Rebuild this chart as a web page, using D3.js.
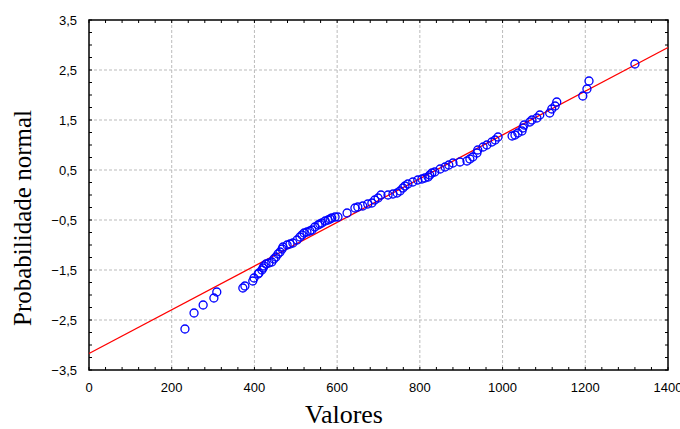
<!DOCTYPE html>
<html>
<head>
<meta charset="utf-8">
<script src="https://cdn.jsdelivr.net/npm/d3@7"></script>
<style>
  body { margin: 0; background: #fff; }
  svg { display: block; }
</style>
</head>
<body>
<svg id="chart" width="680" height="429"></svg>
<script>
// values
var valores = [232, 254, 276, 302, 309, 372, 377, 396, 399, 409, 411, 418, 421, 423, 428, 435, 442, 447, 452, 457,
  462, 467, 469, 479, 486, 493, 503, 510, 515, 520, 527, 534, 539, 546, 554, 558, 563, 571, 578, 583,
  587, 595, 602, 624, 643, 650, 662, 674, 684, 691, 699, 706, 723, 735, 745, 752, 759, 764, 771, 783,
  795, 805, 812, 820, 824, 829, 836, 849, 861, 870, 880, 897, 914, 921, 928, 938, 940, 953, 962, 974,
  982, 989, 1023, 1030, 1037, 1047, 1049, 1052, 1066, 1071, 1083, 1090, 1114, 1119, 1127, 1131, 1194, 1204, 1209, 1320];
var probNormal = [-2.68, -2.36, -2.20, -2.06, -1.94, -1.86, -1.82, -1.72, -1.66, -1.58, -1.56, -1.50, -1.46, -1.42, -1.38, -1.36, -1.34, -1.28, -1.24, -1.18,
  -1.14, -1.08, -1.04, -1.00, -0.98, -0.96, -0.90, -0.84, -0.80, -0.76, -0.74, -0.72, -0.70, -0.64, -0.60, -0.58, -0.56, -0.52, -0.50, -0.48,
  -0.46, -0.44, -0.44, -0.36, -0.26, -0.24, -0.22, -0.18, -0.16, -0.10, -0.06, 0.00, 0.00, 0.02, 0.04, 0.08, 0.14, 0.18, 0.22, 0.26,
  0.30, 0.32, 0.34, 0.36, 0.40, 0.44, 0.46, 0.52, 0.56, 0.60, 0.64, 0.66, 0.68, 0.72, 0.76, 0.84, 0.90, 0.96, 1.00, 1.06,
  1.10, 1.16, 1.18, 1.20, 1.24, 1.28, 1.34, 1.40, 1.46, 1.50, 1.54, 1.60, 1.64, 1.72, 1.78, 1.86, 1.98, 2.12, 2.28, 2.62];

// fitted line ends
var lineX = [0, 1400];
var lineY = [-3.17, 2.95];

var xTicks = [0, 200, 400, 600, 800, 1000, 1200, 1400];
var yTicks = [-3.5, -2.5, -1.5, -0.5, 0.5, 1.5, 2.5, 3.5];

var svg = d3.select("#chart");
var pL = 89, pR = 668, pT = 20, pB = 370;

var x = d3.scaleLinear().domain([0, 1400]).range([pL, pR]);
var y = d3.scaleLinear().domain([-3.5, 3.5]).range([pB, pT]);
var fmt = function(v) { return d3.format(".1f")(v).replace(".", ","); };

// grid
svg.append("g").selectAll("line")
  .data(xTicks.slice(1, -1))
  .enter().append("line")
  .attr("x1", function(d) { return x(d); })
  .attr("x2", function(d) { return x(d); })
  .attr("y1", pT).attr("y2", pB)
  .attr("stroke", "#bbb").attr("stroke-dasharray", "3,2");

svg.append("g").selectAll("line")
  .data(yTicks.slice(1, -1))
  .enter().append("line")
  .attr("y1", function(d) { return y(d); })
  .attr("y2", function(d) { return y(d); })
  .attr("x1", pL).attr("x2", pR)
  .attr("stroke", "#bbb").attr("stroke-dasharray", "3,2");

// inward ticks on all four sides
var xMinor = d3.range(0, 1401, 40);
var yMinor = d3.range(-3.5, 3.51, 0.25);
var tk = svg.append("g").attr("stroke", "#000").attr("stroke-width", 1);
xMinor.forEach(function(v) {
  tk.append("line").attr("x1", x(v)).attr("x2", x(v)).attr("y1", pB).attr("y2", pB - 3);
  tk.append("line").attr("x1", x(v)).attr("x2", x(v)).attr("y1", pT).attr("y2", pT + 3);
});
yMinor.forEach(function(v) {
  tk.append("line").attr("y1", y(v)).attr("y2", y(v)).attr("x1", pL).attr("x2", pL + 3);
  tk.append("line").attr("y1", y(v)).attr("y2", y(v)).attr("x1", pR).attr("x2", pR - 3);
});

// frame
svg.append("rect")
  .attr("x", pL).attr("y", pT)
  .attr("width", pR - pL).attr("height", pB - pT)
  .attr("fill", "none").attr("stroke", "#000").attr("stroke-width", 1.5);

// tick labels
svg.append("g").selectAll("text")
  .data(xTicks).enter().append("text")
  .attr("x", function(d) { return x(d); })
  .attr("y", 392)
  .attr("text-anchor", "middle")
  .style("font-family", "Liberation Sans, Arial, sans-serif")
  .style("font-size", "13px")
  .text(function(d) { return d; });

svg.append("g").selectAll("text")
  .data(yTicks).enter().append("text")
  .attr("x", 77)
  .attr("y", function(d) { return y(d) + 5; })
  .attr("text-anchor", "end")
  .style("font-family", "Liberation Sans, Arial, sans-serif")
  .style("font-size", "13px")
  .text(fmt);

// fitted line
svg.append("line")
  .attr("x1", x(lineX[0])).attr("y1", y(lineY[0]))
  .attr("x2", x(lineX[1])).attr("y2", y(lineY[1]))
  .attr("stroke", "#f00").attr("stroke-width", 1.3);

// points
svg.append("g").selectAll("circle")
  .data(valores)
  .enter().append("circle")
  .attr("cx", function(d) { return x(d); })
  .attr("cy", function(d, i) { return y(probNormal[i]); })
  .attr("r", 4)
  .attr("fill", "none")
  .attr("stroke", "#00f")
  .attr("stroke-width", 1.3);

// axis titles
svg.append("text")
  .attr("x", 344).attr("y", 423)
  .attr("text-anchor", "middle")
  .style("font-family", "Liberation Serif, Times New Roman, serif")
  .style("font-size", "26px")
  .text("Valores");

svg.append("text")
  .attr("transform", "translate(31,218) rotate(-90)")
  .attr("text-anchor", "middle")
  .style("font-family", "Liberation Serif, Times New Roman, serif")
  .style("font-size", "25px")
  .text("Probabilidade normal");
</script>
</body>
</html>
